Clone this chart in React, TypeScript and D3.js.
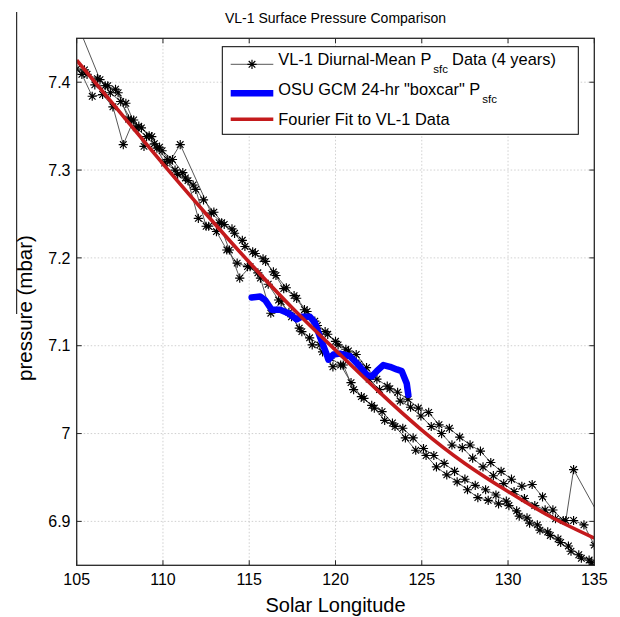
import React from 'react';
import * as d3 from 'd3';

const W = 620;
const H = 617;
const PL = 76.7, PR = 594.3, PT = 38.3, PB = 565.3;

const xTicks = [105, 110, 115, 120, 125, 130, 135];
const yTicks = [6.9, 7.0, 7.1, 7.2, 7.3, 7.4];
const yTickLabels = ['6.9', '7', '7.1', '7.2', '7.3', '7.4'];

// VL-1 diurnal-mean data, four years
const ls1 = [105.0,105.6,106.2,106.8,107.4,108.0,108.6,109.2,109.8,110.4,111.0,112.8,113.4,114.0,114.6,115.2,115.8,116.4,117.0,117.6,118.2,118.8,119.4,120.0,120.6,121.2,121.8,122.4,123.0,123.6,124.2,124.8,125.4,126.0,126.6,127.2,127.8,128.4,129.0,129.6,130.2,130.8,131.4,132.0,132.6,133.2,133.8,134.4,135.0];
const p1 = [7.415,7.409,7.404,7.396,7.388,7.358,7.350,7.339,7.326,7.310,7.329,7.251,7.240,7.233,7.220,7.207,7.199,7.184,7.165,7.157,7.141,7.128,7.116,7.105,7.096,7.090,7.075,7.062,7.054,7.047,7.039,7.029,7.024,7.010,7.006,6.996,6.987,6.980,6.967,6.957,6.948,6.940,6.942,6.928,6.913,6.901,6.901,6.896,6.873];

const ls2 = [104.55,106.35,106.95,107.55,108.15,108.75,109.35,109.95,110.55,111.15,111.75,112.35,112.95,113.55,114.15,114.75,115.35,115.95,116.55,117.15,117.75,118.35,118.95,119.55,120.15,120.75,121.35,121.95,122.55,123.15,123.75,124.35,124.95,125.55,126.15,126.75,127.35,127.95,128.55,129.15,129.75,130.35,130.95,131.55,132.15,132.75,133.35,133.8,135.6];
const p2 = [7.490,7.403,7.388,7.378,7.357,7.348,7.338,7.322,7.312,7.297,7.283,7.266,7.252,7.238,7.228,7.213,7.205,7.196,7.180,7.166,7.154,7.139,7.123,7.113,7.101,7.094,7.079,7.062,7.050,7.051,7.037,7.030,7.020,7.008,7.000,6.987,6.984,6.972,6.962,6.952,6.943,6.934,6.926,6.918,6.913,6.903,6.901,6.959,6.895];

const ls3 = [105.3,105.9,106.5,107.1,107.7,108.3,108.9,109.5,110.1,110.7,111.3,111.9,112.5,113.1,113.7,114.3,114.9,115.5,116.1,116.7,117.3,117.9,118.5,119.1,119.7,120.3,120.9,121.5,122.1,122.7,123.3,123.9,124.5,125.1,125.7,126.3,126.9,127.5,128.1,128.7,129.3,129.9,130.5,131.1,131.7,132.3,132.9,133.5,134.1,134.7,135.3];
const p3 = [7.409,7.384,7.386,7.372,7.329,7.357,7.327,7.330,7.308,7.300,7.291,7.278,7.236,7.230,7.209,7.194,7.190,7.183,7.170,7.152,7.138,7.120,7.109,7.101,7.086,7.078,7.058,7.042,7.032,7.025,7.012,7.006,6.995,6.983,6.975,6.966,6.957,6.948,6.941,6.936,6.930,6.923,6.912,6.904,6.896,6.888,6.880,6.872,6.862,6.856,6.850];

const ls4 = [105.45,106.05,106.65,107.25,107.85,108.45,109.05,109.65,110.25,110.85,111.45,112.05,112.65,113.25,113.85,114.45,115.05,115.65,116.25,116.85,117.45,118.05,118.65,119.25,119.85,120.45,121.05,121.65,122.25,122.85,123.45,124.05,124.65,125.25,125.85,126.45,127.05,127.65,128.25,128.85,129.45,130.05,130.65,131.25,131.85,132.45,133.05,133.65,134.25,134.85];
const p4 = [7.414,7.397,7.396,7.392,7.376,7.348,7.338,7.325,7.312,7.295,7.288,7.245,7.236,7.240,7.209,7.177,7.190,7.177,7.137,7.150,7.133,7.116,7.101,7.093,7.076,7.078,7.050,7.040,7.029,7.015,7.008,6.995,6.981,6.975,6.962,6.953,6.945,6.936,6.927,6.924,6.920,6.918,6.906,6.898,6.890,6.884,6.876,6.866,6.858,6.853];

// OSU GCM 24-hr boxcar
const gcmLs = [115.14,115.63,115.92,116.30,116.79,117.27,117.75,118.04,118.52,118.81,119.10,119.49,119.59,119.88,120.26,120.84,121.33,121.81,122.10,122.39,122.77,123.16,123.55,123.84,124.13,124.22];
const gcmP = [7.155,7.156,7.152,7.141,7.141,7.137,7.130,7.133,7.133,7.126,7.110,7.090,7.084,7.090,7.091,7.088,7.078,7.067,7.065,7.071,7.078,7.076,7.073,7.071,7.057,7.044];

// Fourier fit
const fitLs = [105,107.5,110,112.5,115,117.5,120,122.5,125,127.5,130,132.5,135];
const fitP = [7.425,7.366,7.307,7.250,7.195,7.143,7.095,7.048,7.004,6.966,6.934,6.905,6.881];

const FONT = '"Liberation Sans", Arial, Helvetica, sans-serif';
const STAR = 'M-4.6,0H4.6M0,-4.6V4.6M-3.3,-3.3L3.3,3.3M-3.3,3.3L3.3,-3.3';
const RED = '#c41a1c';

export default function App() {
  const x = d3.scaleLinear().domain([105, 135]).range([PL, PR]);
  const y = d3.scaleLinear().domain([6.85, 7.45]).range([PB, PT]);

  const years = [
    [ls1, p1],
    [ls2, p2],
    [ls3, p3],
    [ls4, p4],
  ].map(([l, p]) => l.map((v, i) => [v, p[i]] as [number, number]));

  const line = d3.line<[number, number]>().x(d => x(d[0])).y(d => y(d[1]));
  const fitLine = d3.line<[number, number]>().x(d => x(d[0])).y(d => y(d[1])).curve(d3.curveNatural);
  const gcm = gcmLs.map((v, i) => [v, gcmP[i]] as [number, number]);
  const fit = fitLs.map((v, i) => [v, fitP[i]] as [number, number]);

  const tickLen = 5;
  const axisColor = '#262626';

  return (
    <svg width={W} height={H} style={{ position: 'absolute', left: 0, top: 0, background: '#fff' }} fontFamily={FONT}>
      <rect x={0} y={0} width={W} height={H} fill="#fff" />
      <defs>
        <clipPath id="plotclip">
          <rect x={PL} y={PT} width={PR - PL} height={PB - PT} />
        </clipPath>
      </defs>
      {/* stray vertical line */}
      <line x1={16.7} x2={16.7} y1={12} y2={314} stroke="#000" strokeWidth={1} />

      {/* grid */}
      <g stroke="#c4c4c4" strokeWidth={0.8} strokeDasharray="1.5,2">
        {xTicks.slice(1, -1).map(t => (
          <line key={'gx' + t} x1={x(t)} x2={x(t)} y1={PT} y2={PB} />
        ))}
        {yTicks.map(t => (
          <line key={'gy' + t} x1={PL} x2={PR} y1={y(t)} y2={y(t)} />
        ))}
      </g>

      {/* ticks */}
      <g stroke={axisColor} strokeWidth={1}>
        {xTicks.map(t => (
          <g key={'tx' + t}>
            <line x1={x(t)} x2={x(t)} y1={PB} y2={PB - tickLen} />
            <line x1={x(t)} x2={x(t)} y1={PT} y2={PT + tickLen} />
          </g>
        ))}
        {yTicks.map(t => (
          <g key={'ty' + t}>
            <line x1={PL} x2={PL + tickLen} y1={y(t)} y2={y(t)} />
            <line x1={PR} x2={PR - tickLen} y1={y(t)} y2={y(t)} />
          </g>
        ))}
      </g>

      <g clipPath="url(#plotclip)">
        {years.map((yr, i) => (
          <path key={'l' + i} d={line(yr) || ''} fill="none" stroke="#444" strokeWidth={0.9} />
        ))}
        {years.map((yr, i) => (
          <g key={'m' + i} stroke="#000" strokeWidth={1.15} fill="none">
            {yr.map((d, j) => (
              <path key={j} d={STAR} transform={`translate(${x(d[0])},${y(d[1])})`} />
            ))}
          </g>
        ))}
        <path d={line(gcm) || ''} fill="none" stroke="#0000ff" strokeWidth={6.5} strokeLinejoin="round" strokeLinecap="round" />
        <path d={fitLine(fit) || ''} fill="none" stroke={RED} strokeWidth={3.6} />
      </g>

      {/* axes box */}
      <rect x={PL} y={PT} width={PR - PL} height={PB - PT} fill="none" stroke={axisColor} strokeWidth={1.3} />

      {/* tick labels */}
      <g fontSize={16} fill="#000">
        {xTicks.map(t => (
          <text key={'lx' + t} x={x(t)} y={585} textAnchor="middle">{t}</text>
        ))}
        {yTicks.map((t, i) => (
          <text key={'ly' + t} x={70.5} y={y(t) + 5.7} textAnchor="end">{yTickLabels[i]}</text>
        ))}
      </g>

      {/* titles */}
      <text x={(PL + PR) / 2} y={23} textAnchor="middle" fontSize={14} fill="#000">VL-1 Surface Pressure Comparison</text>
      <text x={(PL + PR) / 2} y={612} textAnchor="middle" fontSize={20} fill="#000">Solar Longitude</text>
      <text transform="translate(32,308) rotate(-90)" textAnchor="middle" fontSize={20.5} fill="#000">pressure (mbar)</text>

      {/* legend */}
      <g>
        <rect x={222.3} y={46.7} width={356} height={87.6} fill="#fff" stroke="#000" strokeWidth={1} />
        <line x1={230.7} x2={273.3} y1={64.3} y2={64.3} stroke="#444" strokeWidth={0.9} />
        <path d={STAR} transform="translate(252,64.3)" stroke="#000" strokeWidth={1.15} fill="none" />
        <line x1={230.7} x2={273.3} y1={93.3} y2={93.3} stroke="#0000ff" strokeWidth={6.5} />
        <line x1={230.7} x2={273.3} y1={119.3} y2={119.3} stroke={RED} strokeWidth={3.6} />
        <g fontSize={16.4} fill="#000">
          <text x={278.3} y={65}>
            VL-1 Diurnal-Mean P<tspan fontSize={11.5} dy={7.5} dx={2}>sfc</tspan><tspan dy={-7.5} dx={4}>Data (4 years)</tspan>
          </text>
          <text x={278.3} y={95}>
            OSU GCM 24-hr "boxcar" P<tspan fontSize={11.5} dy={7.5} dx={2}>sfc</tspan>
          </text>
          <text x={278.3} y={125}>Fourier Fit to VL-1 Data</text>
        </g>
      </g>
    </svg>
  );
}
